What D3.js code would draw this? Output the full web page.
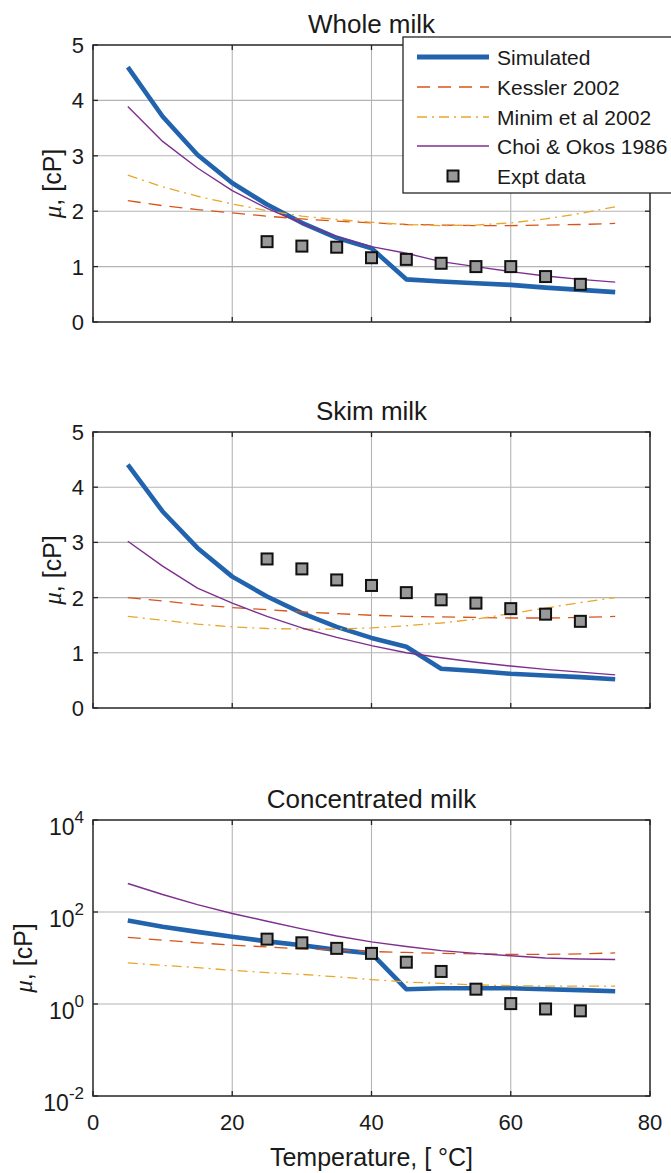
<!DOCTYPE html>
<html><head><meta charset="utf-8">
<script src="https://cdn.jsdelivr.net/npm/d3@7"></script>
<style>
html,body{margin:0;padding:0;background:#fff;}
svg text{font-family:"Liberation Sans",Arial,sans-serif;fill:#1a1a1a;}
</style></head>
<body><svg id="c" width="671" height="1173"></svg>
<script>
const temps = [5,10,15,20,25,30,35,40,45,50,55,60,65,70,75];
const exptTemps = [25,30,35,40,45,50,55,60,65,70];

const simWhole     = [4.60,3.71,3.02,2.51,2.12,1.79,1.52,1.33,0.77,0.73,0.70,0.67,0.62,0.58,0.54];
const kesslerWhole = [2.19,2.10,2.03,1.97,1.91,1.86,1.82,1.79,1.76,1.75,1.74,1.74,1.75,1.76,1.78];
const minimWhole   = [2.65,2.44,2.27,2.13,2.01,1.91,1.85,1.80,1.76,1.74,1.75,1.79,1.86,1.96,2.08];
const choiWhole    = [3.89,3.26,2.78,2.37,2.05,1.78,1.54,1.36,1.24,1.09,1.00,0.91,0.83,0.77,0.72];
const exptWhole    = [1.45,1.37,1.35,1.16,1.13,1.06,1.00,1.00,0.82,0.68];

const simSkim     = [4.41,3.56,2.90,2.38,2.02,1.72,1.47,1.27,1.11,0.71,0.67,0.62,0.59,0.56,0.52];
const kesslerSkim = [2.00,1.94,1.87,1.82,1.78,1.74,1.71,1.68,1.66,1.65,1.64,1.63,1.63,1.64,1.66];
const minimSkim   = [1.66,1.59,1.52,1.47,1.44,1.43,1.43,1.45,1.49,1.54,1.61,1.71,1.81,1.91,2.00];
const choiSkim    = [3.02,2.57,2.17,1.90,1.66,1.45,1.28,1.13,1.00,0.91,0.83,0.76,0.70,0.65,0.60];
const exptSkim    = [2.70,2.52,2.32,2.22,2.09,1.96,1.90,1.80,1.70,1.57];

const simConc     = [65,48,37,29,23,19,15,12.6,2.1,2.2,2.2,2.2,2.1,2.0,1.9];
const kesslerConc = [28,24.5,21.4,19,17.4,15.8,14.8,13.8,13.2,12.6,12.3,12,12,12.3,12.9];
const minimConc   = [7.8,6.9,6.2,5.4,4.8,4.4,3.9,3.4,3.0,2.8,2.6,2.5,2.45,2.45,2.45];
const choiConc    = [417,240,145,93,63,43,30,22.4,17.8,14.5,12.6,11.2,10,9.5,9.3];
const exptConc    = [25.7,21.4,16.2,12.6,8.1,5.1,2.1,1.02,0.78,0.71];

const titles = ["Whole milk","Skim milk","Concentrated milk"];
const xTicks = [0,20,40,60,80];
const linYTicks = [0,1,2,3,4,5];
const logYTicks = [1e-2,1,1e2,1e4];
const seriesNames = ["Simulated","Kessler 2002","Minim et al 2002","Choi & Okos 1986","Expt data"];

const svg = d3.select("#c");
const X0 = 93, X1 = 650;
const x = d3.scaleLinear().domain([0,80]).range([X0,X1]);

const panels = [
  {top:45, bottom:322, log:false, labelX:61, data:[simWhole,kesslerWhole,minimWhole,choiWhole,exptWhole]},
  {top:432, bottom:708, log:false, labelX:61, data:[simSkim,kesslerSkim,minimSkim,choiSkim,exptSkim]},
  {top:820, bottom:1096, log:true, labelX:32, data:[simConc,kesslerConc,minimConc,choiConc,exptConc]}
];

const styles = [
  {color:"#2263ae", w:4.6, dash:null},
  {color:"#d9541a", w:1.3, dash:"13,8"},
  {color:"#e8a72a", w:1.3, dash:"10,5,2,5"},
  {color:"#7e2f8e", w:1.4, dash:null}
];

panels.forEach((p,i)=>{
  const y = p.log
    ? d3.scaleLog().domain([1e-2,1e4]).range([p.bottom,p.top])
    : d3.scaleLinear().domain([0,5]).range([p.bottom,p.top]);
  const yt = p.log ? logYTicks : linYTicks;
  const g = svg.append("g");
  // grid
  g.selectAll(".gx").data(xTicks.slice(1,-1)).enter().append("line")
    .attr("x1",d=>x(d)).attr("x2",d=>x(d)).attr("y1",p.top).attr("y2",p.bottom)
    .attr("stroke","#b4b4b4").attr("stroke-width",1.1);
  g.selectAll(".gy").data(yt.slice(1,-1)).enter().append("line")
    .attr("y1",d=>y(d)).attr("y2",d=>y(d)).attr("x1",X0).attr("x2",X1)
    .attr("stroke","#b4b4b4").attr("stroke-width",1.1);
  // ticks (inside, on all sides)
  xTicks.forEach(t=>{
    g.append("line").attr("x1",x(t)).attr("x2",x(t)).attr("y1",p.bottom).attr("y2",p.bottom-5).attr("stroke","#262626").attr("stroke-width",1.3);
    g.append("line").attr("x1",x(t)).attr("x2",x(t)).attr("y1",p.top).attr("y2",p.top+5).attr("stroke","#262626").attr("stroke-width",1.3);
  });
  yt.forEach(t=>{
    g.append("line").attr("x1",X0).attr("x2",X0+5).attr("y1",y(t)).attr("y2",y(t)).attr("stroke","#262626").attr("stroke-width",1.3);
    g.append("line").attr("x1",X1).attr("x2",X1-5).attr("y1",y(t)).attr("y2",y(t)).attr("stroke","#262626").attr("stroke-width",1.3);
  });
  // y tick labels
  yt.forEach(t=>{
    if(p.log){
      const e = Math.round(Math.log10(t));
      const tx = g.append("text").attr("x",84).attr("y",y(t)+15).attr("text-anchor","end").attr("font-size",23);
      tx.append("tspan").text("10");
      tx.append("tspan").attr("dy",-12).attr("font-size",17).text(String(e));
    } else {
      g.append("text").attr("x",84).attr("y",y(t)+8).attr("text-anchor","end").attr("font-size",22).text(t);
    }
  });
  // title
  g.append("text").attr("x",(X0+X1)/2).attr("y",p.top-12).attr("text-anchor","middle").attr("font-size",26).text(titles[i]);
  // y label
  const yl = g.append("text").attr("transform",`translate(${p.labelX},${(p.top+p.bottom)/2}) rotate(-90)`)
    .attr("text-anchor","middle").attr("font-size",25);
  yl.append("tspan").attr("font-family","'Liberation Serif',serif").attr("font-style","italic").text("μ");
  yl.append("tspan").text(", [cP]");

  // lines
  const clipId = "clip"+i;
  svg.append("clipPath").attr("id",clipId).append("rect").attr("x",X0).attr("y",p.top).attr("width",X1-X0).attr("height",p.bottom-p.top);
  const lg = g.append("g").attr("clip-path",`url(#${clipId})`);
  const line = d3.line().x((d,k)=>x(temps[k])).y(d=>y(d));
  [0,1,2,3].forEach(s=>{
    lg.append("path").datum(p.data[s]).attr("d",line).attr("fill","none")
      .attr("stroke",styles[s].color).attr("stroke-width",styles[s].w)
      .attr("stroke-dasharray",styles[s].dash).attr("stroke-linejoin","round");
  });
  // expt markers
  g.selectAll(".m").data(p.data[4]).enter().append("rect")
    .attr("x",(d,k)=>x(exptTemps[k])-5.5).attr("y",d=>y(d)-5.5)
    .attr("width",11).attr("height",11).attr("fill","#999999")
    .attr("stroke","#111").attr("stroke-width",2);
  // axes box
  g.append("rect").attr("x",X0).attr("y",p.top).attr("width",X1-X0).attr("height",p.bottom-p.top)
    .attr("fill","none").attr("stroke","#262626").attr("stroke-width",1.5);

  if(i===2){
    xTicks.forEach(t=>{
      g.append("text").attr("x",x(t)).attr("y",1130).attr("text-anchor","middle").attr("font-size",22).text(t);
    });
    g.append("text").attr("x",(X0+X1)/2).attr("y",1166).attr("text-anchor","middle").attr("font-size",25).text("Temperature, [ °C]");
  }
  if(i===0){
    const L = svg.append("g");
    L.append("rect").attr("x",403).attr("y",37).attr("width",300).attr("height",156)
      .attr("fill","#fff").attr("stroke","#262626").attr("stroke-width",1.3);
    const rows = [57,87,117,146,176];
    seriesNames.forEach((nm,s)=>{
      const yy = rows[s];
      if(s<4){
        L.append("line").attr("x1",417).attr("x2",489).attr("y1",yy).attr("y2",yy)
          .attr("stroke",styles[s].color).attr("stroke-width",s===0?5:1.3)
          .attr("stroke-dasharray",styles[s].dash);
      } else {
        L.append("rect").attr("x",453-5.5).attr("y",yy-5.5).attr("width",11).attr("height",11)
          .attr("fill","#999999").attr("stroke","#111").attr("stroke-width",2);
      }
      L.append("text").attr("x",497).attr("y",yy+8).attr("font-size",21).text(nm);
    });
  }
});
</script></body></html>
